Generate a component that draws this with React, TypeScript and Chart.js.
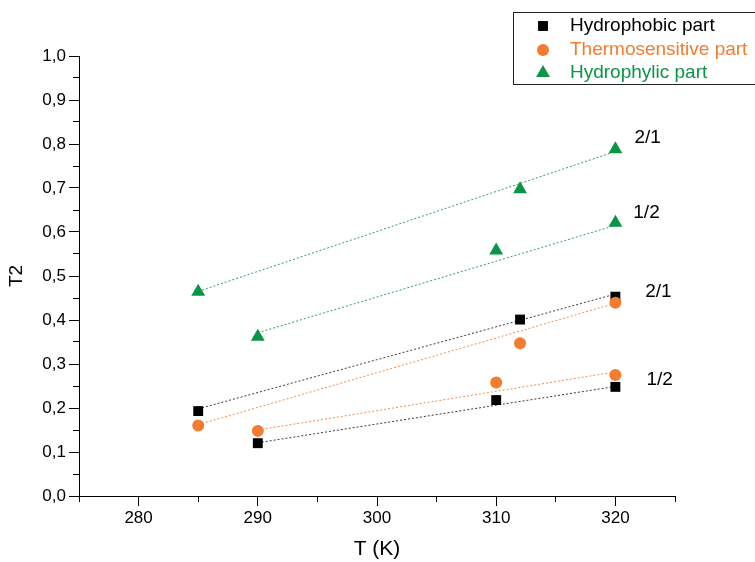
import React, { useEffect, useRef } from 'react';
import { Chart, registerables } from 'chart.js';

Chart.register(...registerables);

const FONT = '"Liberation Sans", Arial, Helvetica, sans-serif';

// ---- series metadata ----
const seriesNames = ['Hydrophobic part', 'Thermosensitive part', 'Hydrophylic part'];
const seriesColors = ['#000000', '#F47C30', '#0A9446'];
const fitColors = ['#3a3a3a', '#F58A45', '#2E9E5E'];
const seriesMarkers = ['rect', 'circle', 'triangle'];
const markerRadius = [7, 6, 8];

// ---- temperatures (K) ----
const temps21 = [285, 312, 320];
const temps12 = [290, 310, 320];

// ---- T2 values ----
const hydrophobic21 = [0.193, 0.401, 0.453];
const hydrophobic12 = [0.12, 0.218, 0.248];
const thermo21 = [0.16, 0.347, 0.439];
const thermo12 = [0.148, 0.258, 0.275];
const hydrophylic21 = [0.464, 0.697, 0.788];
const hydrophylic12 = [0.362, 0.558, 0.621];

// ---- linear fit lines (endpoints) ----
const fitT21 = [285, 320];
const fitT12 = [290, 320];
const fitHydrophobic21 = [0.198, 0.459];
const fitHydrophobic12 = [0.121, 0.249];
const fitThermo21 = [0.162, 0.438];
const fitThermo12 = [0.15, 0.282];
const fitHydrophylic21 = [0.465, 0.783];
const fitHydrophylic12 = [0.371, 0.615];

// ---- ratio annotations ----
const ratioLabels = ['2/1', '1/2', '2/1', '1/2'];
const ratioLabelT = [321.6, 321.5, 322.5, 322.6];
const ratioLabelY = [0.814, 0.643, 0.464, 0.265];

// ---- axes ----
const xMin = 275;
const xMax = 325;
const xStep = 5;
const yMin = 0;
const yMax = 1;
const yStep = 0.05;

const toPts = (xs: number[], ys: number[]) => xs.map((x, i) => ({ x, y: ys[i] }));

const pointSets = [
  { s: 0, data: toPts(temps21, hydrophobic21) },
  { s: 0, data: toPts(temps12, hydrophobic12) },
  { s: 1, data: toPts(temps21, thermo21) },
  { s: 1, data: toPts(temps12, thermo12) },
  { s: 2, data: toPts(temps21, hydrophylic21) },
  { s: 2, data: toPts(temps12, hydrophylic12) },
];

const fitSets = [
  { s: 0, data: toPts(fitT21, fitHydrophobic21) },
  { s: 0, data: toPts(fitT12, fitHydrophobic12) },
  { s: 1, data: toPts(fitT21, fitThermo21) },
  { s: 1, data: toPts(fitT12, fitThermo12) },
  { s: 2, data: toPts(fitT21, fitHydrophylic21) },
  { s: 2, data: toPts(fitT12, fitHydrophylic12) },
];

function drawMarker(ctx: CanvasRenderingContext2D, style: string, x: number, y: number, r: number) {
  ctx.beginPath();
  if (style === 'rect') {
    const h = r * Math.SQRT1_2;
    ctx.rect(x - h, y - h, 2 * h, 2 * h);
  } else if (style === 'circle') {
    ctx.arc(x, y, r, 0, Math.PI * 2);
  } else {
    ctx.moveTo(x, y - r);
    ctx.lineTo(x + r * Math.sin((2 * Math.PI) / 3), y + r / 2);
    ctx.lineTo(x - r * Math.sin((2 * Math.PI) / 3), y + r / 2);
    ctx.closePath();
  }
  ctx.fill();
}

const align = (p: number) => Math.round(p - 0.5) + 0.5;
const MAJOR_TICK = 10;
const MINOR_TICK = 6;

const overlayPlugin = {
  id: 'overlay',
  afterDraw(chart: any) {
    const { ctx, chartArea, scales } = chart;
    const xs = scales.x;
    const ys = scales.y;
    ctx.save();
    ctx.strokeStyle = '#000';
    ctx.lineWidth = 1;
    // x tick marks
    for (let v = xMin; v <= xMax + 1e-9; v += xStep) {
      const px = align(xs.getPixelForValue(v));
      const major = Math.round(v) % 10 === 0;
      const len = major ? MAJOR_TICK : MINOR_TICK;
      ctx.beginPath();
      ctx.moveTo(px, chartArea.bottom);
      ctx.lineTo(px, chartArea.bottom + len);
      ctx.stroke();
    }
    // y tick marks
    const nY = Math.round((yMax - yMin) / yStep);
    for (let i = 0; i <= nY; i++) {
      const v = yMin + i * yStep;
      const py = align(ys.getPixelForValue(v));
      const major = i % 2 === 0;
      const len = major ? MAJOR_TICK : MINOR_TICK;
      ctx.beginPath();
      ctx.moveTo(chartArea.left - len, py);
      ctx.lineTo(chartArea.left, py);
      ctx.stroke();
    }
    // ratio labels
    ctx.fillStyle = '#000';
    ctx.font = `19px ${FONT}`;
    ctx.textAlign = 'left';
    ctx.textBaseline = 'middle';
    ratioLabels.forEach((t, i) => {
      ctx.fillText(t, xs.getPixelForValue(ratioLabelT[i]), ys.getPixelForValue(ratioLabelY[i]));
    });
    // legend
    ctx.strokeStyle = '#222';
    ctx.lineWidth = 1;
    ctx.strokeRect(513.5, 12.5, 260, 72);
    ctx.font = `19px ${FONT}`;
    const rowY = [26, 50, 73];
    seriesNames.forEach((name, i) => {
      ctx.fillStyle = seriesColors[i];
      drawMarker(ctx, seriesMarkers[i], 543, rowY[i], markerRadius[i]);
      ctx.fillText(name, 570, rowY[i]);
    });
    ctx.restore();
  },
};

export default function App() {
  const ref = useRef<HTMLCanvasElement | null>(null);

  useEffect(() => {
    document.body.style.margin = '0';
    const canvas = ref.current;
    if (!canvas) return;

    const datasets: any[] = [];
    fitSets.forEach((f) => {
      datasets.push({
        type: 'line',
        data: f.data,
        borderColor: fitColors[f.s],
        borderWidth: 1,
        borderDash: [2, 2],
        pointRadius: 0,
        fill: false,
        order: 10,
      });
    });
    pointSets.forEach((p) => {
      datasets.push({
        type: 'scatter',
        label: seriesNames[p.s],
        data: p.data,
        backgroundColor: seriesColors[p.s],
        borderColor: seriesColors[p.s],
        borderWidth: 0,
        pointStyle: seriesMarkers[p.s],
        pointRadius: markerRadius[p.s],
        showLine: false,
        order: 3 - p.s,
      });
    });

    const chart = new Chart(canvas, {
      type: 'scatter',
      data: { datasets },
      plugins: [overlayPlugin],
      options: {
        animation: false,
        responsive: false,
        devicePixelRatio: 1,
        layout: { padding: { left: 0, top: 56, right: 80, bottom: 0 } },
        plugins: {
          legend: { display: false },
          tooltip: { enabled: false },
        },
        scales: {
          x: {
            type: 'linear',
            min: xMin,
            max: xMax,
            grid: { display: false, drawTicks: true, tickLength: MAJOR_TICK },
            border: { display: true, color: '#000', width: 1 },
            afterFit: (s: any) => {
              s.height = 66;
            },
            ticks: {
              stepSize: xStep,
              autoSkip: false,
              maxRotation: 0,
              padding: 2,
              color: '#000',
              font: { family: FONT, size: 17 },
              callback: (v: any) => (Math.round(Number(v)) % 10 === 0 ? String(v) : ''),
            },
            title: {
              display: true,
              text: 'T (K)',
              color: '#000',
              font: { family: FONT, size: 21 },
              padding: { top: 0, bottom: 0 },
            },
          },
          y: {
            type: 'linear',
            min: yMin,
            max: yMax,
            grid: { display: false, drawTicks: true, tickLength: MAJOR_TICK },
            border: { display: true, color: '#000', width: 1 },
            afterFit: (s: any) => {
              s.width = 79;
            },
            ticks: {
              stepSize: yStep,
              autoSkip: false,
              padding: 3,
              color: '#000',
              font: { family: FONT, size: 17 },
              callback: (v: any) => {
                const n = Number(v);
                return Math.round(n * 20) % 2 === 0 ? n.toFixed(1).replace('.', ',') : '';
              },
            },
            title: {
              display: true,
              text: 'T2',
              color: '#000',
              font: { family: FONT, size: 19 },
              padding: { top: 5, bottom: 0 },
            },
          },
        },
      } as any,
    });

    return () => chart.destroy();
  }, []);

  return (
    <div style={{ position: 'absolute', left: 0, top: 0, width: 755, height: 562, background: '#fff' }}>
      <canvas ref={ref} width={755} height={562} style={{ display: 'block' }} />
    </div>
  );
}
